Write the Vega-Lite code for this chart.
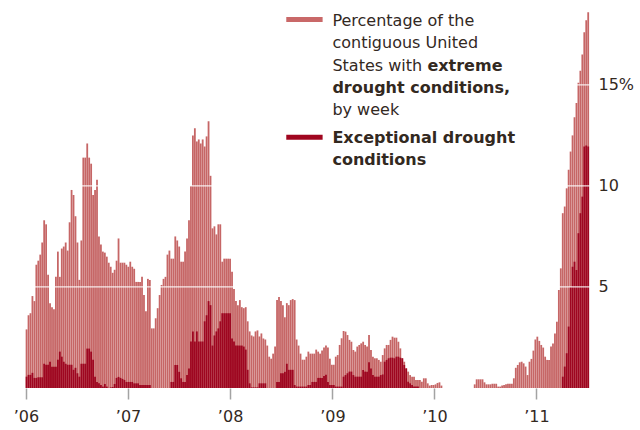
{
  "$schema": "https://vega.github.io/schema/vega-lite/v6.json",
  "width": 575,
  "height": 388,
  "autosize": {"type": "none"},
  "padding": {"left": 21, "top": 0, "right": 44, "bottom": 42},
  "background": "white",
  "datasets": {
    "weeks": [
      {"week": "2006-01-03", "extreme": 2.9, "exceptional": 0.56},
      {"week": "2006-01-10", "extreme": 3.6, "exceptional": 0.65},
      {"week": "2006-01-17", "extreme": 3.7, "exceptional": 0.65},
      {"week": "2006-01-24", "extreme": 4.55, "exceptional": 0.75},
      {"week": "2006-01-31", "extreme": 4.3, "exceptional": 0.5},
      {"week": "2006-02-07", "extreme": 6.1, "exceptional": 0.5},
      {"week": "2006-02-14", "extreme": 6.3, "exceptional": 0.53},
      {"week": "2006-02-21", "extreme": 6.6, "exceptional": 0.53},
      {"week": "2006-02-28", "extreme": 7.2, "exceptional": 0.53},
      {"week": "2006-03-07", "extreme": 8.3, "exceptional": 1.2},
      {"week": "2006-03-14", "extreme": 8.1, "exceptional": 1.15},
      {"week": "2006-03-21", "extreme": 5.6, "exceptional": 1.15},
      {"week": "2006-03-28", "extreme": 4.2, "exceptional": 1.3},
      {"week": "2006-04-04", "extreme": 4.0, "exceptional": 1.05},
      {"week": "2006-04-11", "extreme": 3.9, "exceptional": 1.05},
      {"week": "2006-04-18", "extreme": 5.5, "exceptional": 1.05},
      {"week": "2006-04-25", "extreme": 6.75, "exceptional": 1.4},
      {"week": "2006-05-02", "extreme": 5.5, "exceptional": 1.8},
      {"week": "2006-05-09", "extreme": 6.9, "exceptional": 1.55},
      {"week": "2006-05-16", "extreme": 7.0, "exceptional": 1.3},
      {"week": "2006-05-23", "extreme": 7.2, "exceptional": 1.2},
      {"week": "2006-05-30", "extreme": 6.8, "exceptional": 1.15},
      {"week": "2006-06-06", "extreme": 8.2, "exceptional": 1.15},
      {"week": "2006-06-13", "extreme": 9.8, "exceptional": 1.15},
      {"week": "2006-06-20", "extreme": 9.55, "exceptional": 0.9},
      {"week": "2006-06-27", "extreme": 8.5, "exceptional": 1.0},
      {"week": "2006-07-04", "extreme": 7.2, "exceptional": 0.73},
      {"week": "2006-07-11", "extreme": 5.35, "exceptional": 0.56},
      {"week": "2006-07-18", "extreme": 7.3, "exceptional": 1.2},
      {"week": "2006-07-25", "extreme": 11.4, "exceptional": 1.2},
      {"week": "2006-08-01", "extreme": 11.4, "exceptional": 1.2},
      {"week": "2006-08-08", "extreme": 12.1, "exceptional": 1.95},
      {"week": "2006-08-15", "extreme": 11.4, "exceptional": 1.95},
      {"week": "2006-08-22", "extreme": 11.1, "exceptional": 1.8},
      {"week": "2006-08-29", "extreme": 9.55, "exceptional": 1.4},
      {"week": "2006-09-05", "extreme": 9.8, "exceptional": 0.56},
      {"week": "2006-09-12", "extreme": 10.3, "exceptional": 0.3},
      {"week": "2006-09-19", "extreme": 7.5, "exceptional": 0.23},
      {"week": "2006-09-26", "extreme": 7.1, "exceptional": 0.15},
      {"week": "2006-10-03", "extreme": 6.75, "exceptional": 0.07},
      {"week": "2006-10-10", "extreme": 6.7, "exceptional": 0.2},
      {"week": "2006-10-17", "extreme": 6.5, "exceptional": 0.07},
      {"week": "2006-10-24", "extreme": 6.2, "exceptional": 0},
      {"week": "2006-10-31", "extreme": 6.0, "exceptional": 0.03},
      {"week": "2006-11-07", "extreme": 5.7, "exceptional": 0.05},
      {"week": "2006-11-14", "extreme": 5.85, "exceptional": 0.2},
      {"week": "2006-11-21", "extreme": 6.3, "exceptional": 0.5},
      {"week": "2006-11-28", "extreme": 7.4, "exceptional": 0.55},
      {"week": "2006-12-05", "extreme": 6.2, "exceptional": 0.5},
      {"week": "2006-12-12", "extreme": 6.2, "exceptional": 0.45},
      {"week": "2006-12-19", "extreme": 6.2, "exceptional": 0.4},
      {"week": "2006-12-26", "extreme": 6.1, "exceptional": 0.3},
      {"week": "2007-01-02", "extreme": 6.0, "exceptional": 0.3},
      {"week": "2007-01-09", "extreme": 6.25, "exceptional": 0.3},
      {"week": "2007-01-16", "extreme": 6.0, "exceptional": 0.3},
      {"week": "2007-01-23", "extreme": 5.9, "exceptional": 0.23},
      {"week": "2007-01-30", "extreme": 5.25, "exceptional": 0.23},
      {"week": "2007-02-06", "extreme": 5.25, "exceptional": 0.23},
      {"week": "2007-02-13", "extreme": 5.25, "exceptional": 0.15},
      {"week": "2007-02-20", "extreme": 5.5, "exceptional": 0.15},
      {"week": "2007-02-27", "extreme": 4.6, "exceptional": 0.15},
      {"week": "2007-03-06", "extreme": 3.8, "exceptional": 0.15},
      {"week": "2007-03-13", "extreme": 5.4, "exceptional": 0.15},
      {"week": "2007-03-20", "extreme": 5.35, "exceptional": 0.15},
      {"week": "2007-03-27", "extreme": 2.95, "exceptional": 0},
      {"week": "2007-04-03", "extreme": 2.95, "exceptional": 0},
      {"week": "2007-04-10", "extreme": 3.45, "exceptional": 0},
      {"week": "2007-04-17", "extreme": 3.95, "exceptional": 0},
      {"week": "2007-04-24", "extreme": 4.6, "exceptional": 0},
      {"week": "2007-05-01", "extreme": 5.1, "exceptional": 0},
      {"week": "2007-05-08", "extreme": 5.4, "exceptional": 0},
      {"week": "2007-05-15", "extreme": 5.5, "exceptional": 0},
      {"week": "2007-05-22", "extreme": 6.6, "exceptional": 0},
      {"week": "2007-05-29", "extreme": 6.8, "exceptional": 0},
      {"week": "2007-06-05", "extreme": 6.4, "exceptional": 0.3},
      {"week": "2007-06-12", "extreme": 6.4, "exceptional": 0.3},
      {"week": "2007-06-19", "extreme": 7.5, "exceptional": 1.14},
      {"week": "2007-06-26", "extreme": 7.3, "exceptional": 1.14},
      {"week": "2007-07-03", "extreme": 7.0, "exceptional": 0.8},
      {"week": "2007-07-10", "extreme": 6.25, "exceptional": 0.48},
      {"week": "2007-07-17", "extreme": 6.25, "exceptional": 0.3},
      {"week": "2007-07-24", "extreme": 6.75, "exceptional": 0.3},
      {"week": "2007-07-31", "extreme": 7.4, "exceptional": 0.64},
      {"week": "2007-08-07", "extreme": 8.3, "exceptional": 0.97},
      {"week": "2007-08-14", "extreme": 10.0, "exceptional": 2.3},
      {"week": "2007-08-21", "extreme": 12.5, "exceptional": 2.8},
      {"week": "2007-08-28", "extreme": 12.85, "exceptional": 2.3},
      {"week": "2007-09-04", "extreme": 12.2, "exceptional": 2.8},
      {"week": "2007-09-11", "extreme": 12.3, "exceptional": 2.3},
      {"week": "2007-09-18", "extreme": 12.1, "exceptional": 2.3},
      {"week": "2007-09-25", "extreme": 12.3, "exceptional": 2.3},
      {"week": "2007-10-02", "extreme": 11.95, "exceptional": 3.3},
      {"week": "2007-10-09", "extreme": 12.45, "exceptional": 3.6},
      {"week": "2007-10-16", "extreme": 13.2, "exceptional": 4.3},
      {"week": "2007-10-23", "extreme": 10.5, "exceptional": 4.1},
      {"week": "2007-10-30", "extreme": 7.9, "exceptional": 2.1},
      {"week": "2007-11-06", "extreme": 8.0, "exceptional": 2.6},
      {"week": "2007-11-13", "extreme": 7.6, "exceptional": 2.8},
      {"week": "2007-11-20", "extreme": 8.1, "exceptional": 2.95},
      {"week": "2007-11-27", "extreme": 8.1, "exceptional": 3.3},
      {"week": "2007-12-04", "extreme": 6.25, "exceptional": 3.7},
      {"week": "2007-12-11", "extreme": 6.4, "exceptional": 3.7},
      {"week": "2007-12-18", "extreme": 6.4, "exceptional": 3.7},
      {"week": "2007-12-25", "extreme": 6.4, "exceptional": 3.7},
      {"week": "2008-01-01", "extreme": 6.4, "exceptional": 3.7},
      {"week": "2008-01-08", "extreme": 5.75, "exceptional": 2.45},
      {"week": "2008-01-15", "extreme": 4.9, "exceptional": 2.3},
      {"week": "2008-01-22", "extreme": 4.3, "exceptional": 2.1},
      {"week": "2008-01-29", "extreme": 4.1, "exceptional": 2.1},
      {"week": "2008-02-05", "extreme": 4.35, "exceptional": 2.1},
      {"week": "2008-02-12", "extreme": 4.0, "exceptional": 2.1},
      {"week": "2008-02-19", "extreme": 3.95, "exceptional": 2.05},
      {"week": "2008-02-26", "extreme": 4.0, "exceptional": 1.9},
      {"week": "2008-03-04", "extreme": 3.3, "exceptional": 0.9},
      {"week": "2008-03-11", "extreme": 2.8, "exceptional": 0.23},
      {"week": "2008-03-18", "extreme": 2.6, "exceptional": 0.03},
      {"week": "2008-03-25", "extreme": 2.55, "exceptional": 0.03},
      {"week": "2008-04-01", "extreme": 2.8, "exceptional": 0.03},
      {"week": "2008-04-08", "extreme": 2.85, "exceptional": 0.03},
      {"week": "2008-04-15", "extreme": 2.55, "exceptional": 0.23},
      {"week": "2008-04-22", "extreme": 2.7, "exceptional": 0.23},
      {"week": "2008-04-29", "extreme": 2.45, "exceptional": 0.23},
      {"week": "2008-05-06", "extreme": 2.4, "exceptional": 0.23},
      {"week": "2008-05-13", "extreme": 2.1, "exceptional": 0},
      {"week": "2008-05-20", "extreme": 1.55, "exceptional": 0},
      {"week": "2008-05-27", "extreme": 1.45, "exceptional": 0},
      {"week": "2008-06-03", "extreme": 1.7, "exceptional": 0},
      {"week": "2008-06-10", "extreme": 2.05, "exceptional": 0},
      {"week": "2008-06-17", "extreme": 4.35, "exceptional": 0.3},
      {"week": "2008-06-24", "extreme": 4.5, "exceptional": 0.3},
      {"week": "2008-07-01", "extreme": 4.3, "exceptional": 0.73},
      {"week": "2008-07-08", "extreme": 4.1, "exceptional": 0.73},
      {"week": "2008-07-15", "extreme": 3.5, "exceptional": 0.8},
      {"week": "2008-07-22", "extreme": 4.2, "exceptional": 1.2},
      {"week": "2008-07-29", "extreme": 4.1, "exceptional": 0.9},
      {"week": "2008-08-05", "extreme": 4.35, "exceptional": 0.9},
      {"week": "2008-08-12", "extreme": 4.4, "exceptional": 0.9},
      {"week": "2008-08-19", "extreme": 4.35, "exceptional": 0.15},
      {"week": "2008-08-26", "extreme": 2.4, "exceptional": 0.07},
      {"week": "2008-09-02", "extreme": 2.1, "exceptional": 0.07},
      {"week": "2008-09-09", "extreme": 1.7, "exceptional": 0.07},
      {"week": "2008-09-16", "extreme": 1.4, "exceptional": 0.07},
      {"week": "2008-09-23", "extreme": 1.4, "exceptional": 0.07},
      {"week": "2008-09-30", "extreme": 1.55, "exceptional": 0.07},
      {"week": "2008-10-07", "extreme": 1.8, "exceptional": 0.15},
      {"week": "2008-10-14", "extreme": 1.7, "exceptional": 0.15},
      {"week": "2008-10-21", "extreme": 1.7, "exceptional": 0.3},
      {"week": "2008-10-28", "extreme": 1.7, "exceptional": 0.3},
      {"week": "2008-11-04", "extreme": 1.9, "exceptional": 0.3},
      {"week": "2008-11-11", "extreme": 1.8, "exceptional": 0.5},
      {"week": "2008-11-18", "extreme": 1.7, "exceptional": 0.5},
      {"week": "2008-11-25", "extreme": 1.85, "exceptional": 0.5},
      {"week": "2008-12-02", "extreme": 2.0, "exceptional": 0.6},
      {"week": "2008-12-09", "extreme": 2.1, "exceptional": 0.65},
      {"week": "2008-12-16", "extreme": 2.0, "exceptional": 0.3},
      {"week": "2008-12-23", "extreme": 1.45, "exceptional": 0.15},
      {"week": "2008-12-30", "extreme": 1.15, "exceptional": 0.15},
      {"week": "2009-01-06", "extreme": 1.15, "exceptional": 0.15},
      {"week": "2009-01-13", "extreme": 1.55, "exceptional": 0.07},
      {"week": "2009-01-20", "extreme": 1.63, "exceptional": 0.07},
      {"week": "2009-01-27", "extreme": 2.13, "exceptional": 0.07},
      {"week": "2009-02-03", "extreme": 2.46, "exceptional": 0.07},
      {"week": "2009-02-10", "extreme": 2.82, "exceptional": 0.56},
      {"week": "2009-02-17", "extreme": 2.79, "exceptional": 0.64},
      {"week": "2009-02-24", "extreme": 2.62, "exceptional": 0.73},
      {"week": "2009-03-03", "extreme": 2.38, "exceptional": 0.81},
      {"week": "2009-03-10", "extreme": 2.29, "exceptional": 0.81},
      {"week": "2009-03-17", "extreme": 1.88, "exceptional": 0.64},
      {"week": "2009-03-24", "extreme": 1.8, "exceptional": 0.56},
      {"week": "2009-03-31", "extreme": 2.05, "exceptional": 0.56},
      {"week": "2009-04-07", "extreme": 2.13, "exceptional": 0.56},
      {"week": "2009-04-14", "extreme": 2.21, "exceptional": 0.56},
      {"week": "2009-04-21", "extreme": 2.29, "exceptional": 0.89},
      {"week": "2009-04-28", "extreme": 2.13, "exceptional": 0.81},
      {"week": "2009-05-05", "extreme": 2.05, "exceptional": 0.81},
      {"week": "2009-05-12", "extreme": 2.62, "exceptional": 1.27},
      {"week": "2009-05-19", "extreme": 1.88, "exceptional": 0.97},
      {"week": "2009-05-26", "extreme": 1.55, "exceptional": 0.64},
      {"week": "2009-06-02", "extreme": 1.47, "exceptional": 0.56},
      {"week": "2009-06-09", "extreme": 1.47, "exceptional": 0.56},
      {"week": "2009-06-16", "extreme": 1.39, "exceptional": 0.56},
      {"week": "2009-06-23", "extreme": 1.3, "exceptional": 0.64},
      {"week": "2009-06-30", "extreme": 1.63, "exceptional": 0.67},
      {"week": "2009-07-07", "extreme": 1.96, "exceptional": 1.3},
      {"week": "2009-07-14", "extreme": 2.13, "exceptional": 1.39},
      {"week": "2009-07-21", "extreme": 2.13, "exceptional": 1.47},
      {"week": "2009-07-28", "extreme": 2.38, "exceptional": 1.5},
      {"week": "2009-08-04", "extreme": 2.54, "exceptional": 1.5},
      {"week": "2009-08-11", "extreme": 2.49, "exceptional": 1.47},
      {"week": "2009-08-18", "extreme": 2.49, "exceptional": 1.55},
      {"week": "2009-08-25", "extreme": 2.29, "exceptional": 1.55},
      {"week": "2009-09-01", "extreme": 1.96, "exceptional": 1.5},
      {"week": "2009-09-08", "extreme": 1.47, "exceptional": 1.47},
      {"week": "2009-09-15", "extreme": 1.3, "exceptional": 1.14},
      {"week": "2009-09-22", "extreme": 0.97, "exceptional": 0.97},
      {"week": "2009-09-29", "extreme": 0.81, "exceptional": 0.31},
      {"week": "2009-10-06", "extreme": 0.64, "exceptional": 0.23},
      {"week": "2009-10-13", "extreme": 0.56, "exceptional": 0.15},
      {"week": "2009-10-20", "extreme": 0.56, "exceptional": 0.07},
      {"week": "2009-10-27", "extreme": 0.4, "exceptional": 0.07},
      {"week": "2009-11-03", "extreme": 0.4, "exceptional": 0.07},
      {"week": "2009-11-10", "extreme": 0.4, "exceptional": 0},
      {"week": "2009-11-17", "extreme": 0.31, "exceptional": 0},
      {"week": "2009-11-24", "extreme": 0.48, "exceptional": 0},
      {"week": "2009-12-01", "extreme": 0.48, "exceptional": 0},
      {"week": "2009-12-08", "extreme": 0.23, "exceptional": 0},
      {"week": "2009-12-15", "extreme": 0.12, "exceptional": 0},
      {"week": "2009-12-22", "extreme": 0.15, "exceptional": 0},
      {"week": "2009-12-29", "extreme": 0.15, "exceptional": 0},
      {"week": "2010-01-05", "extreme": 0.18, "exceptional": 0},
      {"week": "2010-01-12", "extreme": 0.25, "exceptional": 0},
      {"week": "2010-01-19", "extreme": 0.28, "exceptional": 0},
      {"week": "2010-01-26", "extreme": 0.12, "exceptional": 0},
      {"week": "2010-02-02", "extreme": 0, "exceptional": 0},
      {"week": "2010-02-09", "extreme": 0, "exceptional": 0},
      {"week": "2010-02-16", "extreme": 0, "exceptional": 0},
      {"week": "2010-02-23", "extreme": 0, "exceptional": 0},
      {"week": "2010-03-02", "extreme": 0, "exceptional": 0},
      {"week": "2010-03-09", "extreme": 0, "exceptional": 0},
      {"week": "2010-03-16", "extreme": 0, "exceptional": 0},
      {"week": "2010-03-23", "extreme": 0, "exceptional": 0},
      {"week": "2010-03-30", "extreme": 0, "exceptional": 0},
      {"week": "2010-04-06", "extreme": 0, "exceptional": 0},
      {"week": "2010-04-13", "extreme": 0, "exceptional": 0},
      {"week": "2010-04-20", "extreme": 0, "exceptional": 0},
      {"week": "2010-04-27", "extreme": 0, "exceptional": 0},
      {"week": "2010-05-04", "extreme": 0, "exceptional": 0},
      {"week": "2010-05-11", "extreme": 0, "exceptional": 0},
      {"week": "2010-05-18", "extreme": 0, "exceptional": 0},
      {"week": "2010-05-25", "extreme": 0.18, "exceptional": 0},
      {"week": "2010-06-01", "extreme": 0.43, "exceptional": 0},
      {"week": "2010-06-08", "extreme": 0.43, "exceptional": 0},
      {"week": "2010-06-15", "extreme": 0.43, "exceptional": 0},
      {"week": "2010-06-22", "extreme": 0.43, "exceptional": 0},
      {"week": "2010-06-29", "extreme": 0.28, "exceptional": 0},
      {"week": "2010-07-06", "extreme": 0.18, "exceptional": 0},
      {"week": "2010-07-13", "extreme": 0.18, "exceptional": 0},
      {"week": "2010-07-20", "extreme": 0.18, "exceptional": 0},
      {"week": "2010-07-27", "extreme": 0.21, "exceptional": 0},
      {"week": "2010-08-03", "extreme": 0.21, "exceptional": 0},
      {"week": "2010-08-10", "extreme": 0.21, "exceptional": 0},
      {"week": "2010-08-17", "extreme": 0.07, "exceptional": 0},
      {"week": "2010-08-24", "extreme": 0.07, "exceptional": 0},
      {"week": "2010-08-31", "extreme": 0.12, "exceptional": 0},
      {"week": "2010-09-07", "extreme": 0.15, "exceptional": 0},
      {"week": "2010-09-14", "extreme": 0.18, "exceptional": 0},
      {"week": "2010-09-21", "extreme": 0.21, "exceptional": 0},
      {"week": "2010-09-28", "extreme": 0.21, "exceptional": 0},
      {"week": "2010-10-05", "extreme": 0.21, "exceptional": 0},
      {"week": "2010-10-12", "extreme": 0.48, "exceptional": 0},
      {"week": "2010-10-19", "extreme": 1.0, "exceptional": 0},
      {"week": "2010-10-26", "extreme": 1.14, "exceptional": 0},
      {"week": "2010-11-02", "extreme": 1.27, "exceptional": 0},
      {"week": "2010-11-09", "extreme": 1.3, "exceptional": 0},
      {"week": "2010-11-16", "extreme": 1.22, "exceptional": 0},
      {"week": "2010-11-23", "extreme": 1.06, "exceptional": 0},
      {"week": "2010-11-30", "extreme": 0.64, "exceptional": 0},
      {"week": "2010-12-07", "extreme": 1.3, "exceptional": 0},
      {"week": "2010-12-14", "extreme": 1.44, "exceptional": 0},
      {"week": "2010-12-21", "extreme": 1.85, "exceptional": 0},
      {"week": "2010-12-28", "extreme": 2.4, "exceptional": 0},
      {"week": "2011-01-04", "extreme": 2.54, "exceptional": 0},
      {"week": "2011-01-11", "extreme": 2.33, "exceptional": 0},
      {"week": "2011-01-18", "extreme": 2.13, "exceptional": 0},
      {"week": "2011-01-25", "extreme": 2.0, "exceptional": 0},
      {"week": "2011-02-01", "extreme": 1.55, "exceptional": 0},
      {"week": "2011-02-08", "extreme": 1.39, "exceptional": 0},
      {"week": "2011-02-15", "extreme": 1.39, "exceptional": 0},
      {"week": "2011-02-22", "extreme": 2.05, "exceptional": 0},
      {"week": "2011-03-01", "extreme": 2.2, "exceptional": 0},
      {"week": "2011-03-08", "extreme": 2.7, "exceptional": 0},
      {"week": "2011-03-15", "extreme": 3.28, "exceptional": 0},
      {"week": "2011-03-22", "extreme": 4.85, "exceptional": 0},
      {"week": "2011-03-29", "extreme": 5.92, "exceptional": 0},
      {"week": "2011-04-05", "extreme": 8.65, "exceptional": 0.56},
      {"week": "2011-04-12", "extreme": 8.98, "exceptional": 1.06},
      {"week": "2011-04-19", "extreme": 9.88, "exceptional": 1.72},
      {"week": "2011-04-26", "extreme": 10.8, "exceptional": 3.04},
      {"week": "2011-05-03", "extreme": 11.7, "exceptional": 5.0},
      {"week": "2011-05-10", "extreme": 12.5, "exceptional": 6.0},
      {"week": "2011-05-17", "extreme": 13.4, "exceptional": 6.25},
      {"week": "2011-05-24", "extreme": 14.1, "exceptional": 5.84},
      {"week": "2011-05-31", "extreme": 15.1, "exceptional": 7.66},
      {"week": "2011-06-07", "extreme": 15.7, "exceptional": 8.65},
      {"week": "2011-06-14", "extreme": 16.5, "exceptional": 9.47},
      {"week": "2011-06-21", "extreme": 17.6, "exceptional": 11.95},
      {"week": "2011-06-28", "extreme": 18.2, "exceptional": 12.0},
      {"week": "2011-07-05", "extreme": 18.6, "exceptional": 11.95}
    ]
  },
  "layer": [
    {
      "data": {"name": "weeks"},
      "mark": {"type": "bar", "width": 1.8, "color": "#c66666"},
      "encoding": {
        "x": {
          "field": "week",
          "type": "temporal",
          "scale": {
            "type": "utc",
            "domain": [
              {"year": 2006, "month": 1, "date": 1, "utc": true},
              {"year": 2011, "month": 7, "date": 15, "utc": true}
            ]
          },
          "axis": {
            "title": null,
            "values": [
              {"year": 2006, "month": 1, "date": 1, "utc": true},
              {"year": 2007, "month": 1, "date": 1, "utc": true},
              {"year": 2008, "month": 1, "date": 1, "utc": true},
              {"year": 2009, "month": 1, "date": 1, "utc": true},
              {"year": 2010, "month": 1, "date": 1, "utc": true},
              {"year": 2011, "month": 1, "date": 1, "utc": true}
            ],
            "labelExpr": "'’' + utcFormat(datum.value, '%y')",
            "domain": false,
            "grid": false,
            "tickColor": "#a3a3a3",
            "tickSize": 11,
            "tickWidth": 1.5,
            "labelPadding": 9,
            "labelFont": "DejaVu Sans",
            "labelFontSize": 16,
            "labelColor": "#33291f"
          }
        },
        "y": {
          "field": "extreme",
          "type": "quantitative",
          "scale": {"domain": [0, 19.2], "nice": false},
          "axis": {
            "title": null,
            "orient": "right",
            "values": [5, 10, 15],
            "labelExpr": "datum.value == 15 ? '15%' : datum.value == 5 ? ' 5' : datum.label",
            "domain": false,
            "ticks": false,
            "grid": false,
            "labelAlign": "left",
            "labelPadding": 2,
            "labelFont": "DejaVu Sans",
            "labelFontSize": 16,
            "labelColor": "#33291f"
          }
        }
      }
    },
    {
      "data": {"name": "weeks"},
      "mark": {"type": "bar", "width": 1.8, "color": "#9e0620"},
      "encoding": {
        "x": {"field": "week", "type": "temporal"},
        "y": {"field": "exceptional", "type": "quantitative"}
      }
    },
    {
      "data": {"values": [{"level": 5}, {"level": 10}, {"level": 15}]},
      "mark": {"type": "rule", "color": "white", "strokeWidth": 1.2, "opacity": 0.85},
      "encoding": {
        "y": {"field": "level", "type": "quantitative"}
      }
    },
    {
      "data": {"values": [{"series": "extreme"}]},
      "mark": {"type": "rule", "color": "#c96868", "strokeWidth": 5},
      "encoding": {
        "x": {"datum": {"year": 2008, "month": 7, "date": 20, "utc": true}, "type": "temporal"},
        "x2": {"datum": {"year": 2008, "month": 11, "date": 27, "utc": true}},
        "y": {"datum": 18.24, "type": "quantitative"}
      }
    },
    {
      "data": {"values": [{"series": "exceptional"}]},
      "mark": {"type": "rule", "color": "#a0061f", "strokeWidth": 5},
      "encoding": {
        "x": {"datum": {"year": 2008, "month": 7, "date": 20, "utc": true}, "type": "temporal"},
        "x2": {"datum": {"year": 2008, "month": 11, "date": 27, "utc": true}},
        "y": {"datum": 12.41, "type": "quantitative"}
      }
    },
    {
      "data": {"values": [{"label": "Percentage of the"}]},
      "mark": {"type": "text", "align": "left", "baseline": "middle", "font": "DejaVu Sans", "fontSize": 16, "color": "#33291f"},
      "encoding": {
        "x": {"datum": {"year": 2009, "month": 1, "date": 1, "utc": true}, "type": "temporal"},
        "y": {"datum": 18.16, "type": "quantitative"},
        "text": {"field": "label"}
      }
    },
    {
      "data": {"values": [{"label": "contiguous United"}]},
      "mark": {"type": "text", "align": "left", "baseline": "middle", "font": "DejaVu Sans", "fontSize": 16, "color": "#33291f"},
      "encoding": {
        "x": {"datum": {"year": 2009, "month": 1, "date": 1, "utc": true}, "type": "temporal"},
        "y": {"datum": 17.06, "type": "quantitative"},
        "text": {"field": "label"}
      }
    },
    {
      "data": {"values": [{"label": "States with"}]},
      "mark": {"type": "text", "align": "left", "baseline": "middle", "font": "DejaVu Sans", "fontSize": 16, "color": "#33291f"},
      "encoding": {
        "x": {"datum": {"year": 2009, "month": 1, "date": 1, "utc": true}, "type": "temporal"},
        "y": {"datum": 15.93, "type": "quantitative"},
        "text": {"field": "label"}
      }
    },
    {
      "data": {"values": [{"label": "extreme"}]},
      "mark": {"type": "text", "align": "left", "baseline": "middle", "dx": 95, "font": "DejaVu Sans", "fontSize": 16, "fontWeight": "bold", "color": "#33291f"},
      "encoding": {
        "x": {"datum": {"year": 2009, "month": 1, "date": 1, "utc": true}, "type": "temporal"},
        "y": {"datum": 15.93, "type": "quantitative"},
        "text": {"field": "label"}
      }
    },
    {
      "data": {"values": [{"label": "drought conditions,"}]},
      "mark": {"type": "text", "align": "left", "baseline": "middle", "font": "DejaVu Sans", "fontSize": 16, "fontWeight": "bold", "color": "#33291f"},
      "encoding": {
        "x": {"datum": {"year": 2009, "month": 1, "date": 1, "utc": true}, "type": "temporal"},
        "y": {"datum": 14.83, "type": "quantitative"},
        "text": {"field": "label"}
      }
    },
    {
      "data": {"values": [{"label": "by week"}]},
      "mark": {"type": "text", "align": "left", "baseline": "middle", "font": "DejaVu Sans", "fontSize": 16, "color": "#33291f"},
      "encoding": {
        "x": {"datum": {"year": 2009, "month": 1, "date": 1, "utc": true}, "type": "temporal"},
        "y": {"datum": 13.76, "type": "quantitative"},
        "text": {"field": "label"}
      }
    },
    {
      "data": {"values": [{"label": "Exceptional drought"}]},
      "mark": {"type": "text", "align": "left", "baseline": "middle", "font": "DejaVu Sans", "fontSize": 16, "fontWeight": "bold", "color": "#33291f"},
      "encoding": {
        "x": {"datum": {"year": 2009, "month": 1, "date": 1, "utc": true}, "type": "temporal"},
        "y": {"datum": 12.39, "type": "quantitative"},
        "text": {"field": "label"}
      }
    },
    {
      "data": {"values": [{"label": "conditions"}]},
      "mark": {"type": "text", "align": "left", "baseline": "middle", "font": "DejaVu Sans", "fontSize": 16, "fontWeight": "bold", "color": "#33291f"},
      "encoding": {
        "x": {"datum": {"year": 2009, "month": 1, "date": 1, "utc": true}, "type": "temporal"},
        "y": {"datum": 11.28, "type": "quantitative"},
        "text": {"field": "label"}
      }
    }
  ],
  "config": {
    "font": "DejaVu Sans",
    "view": {"stroke": null}
  }
}
